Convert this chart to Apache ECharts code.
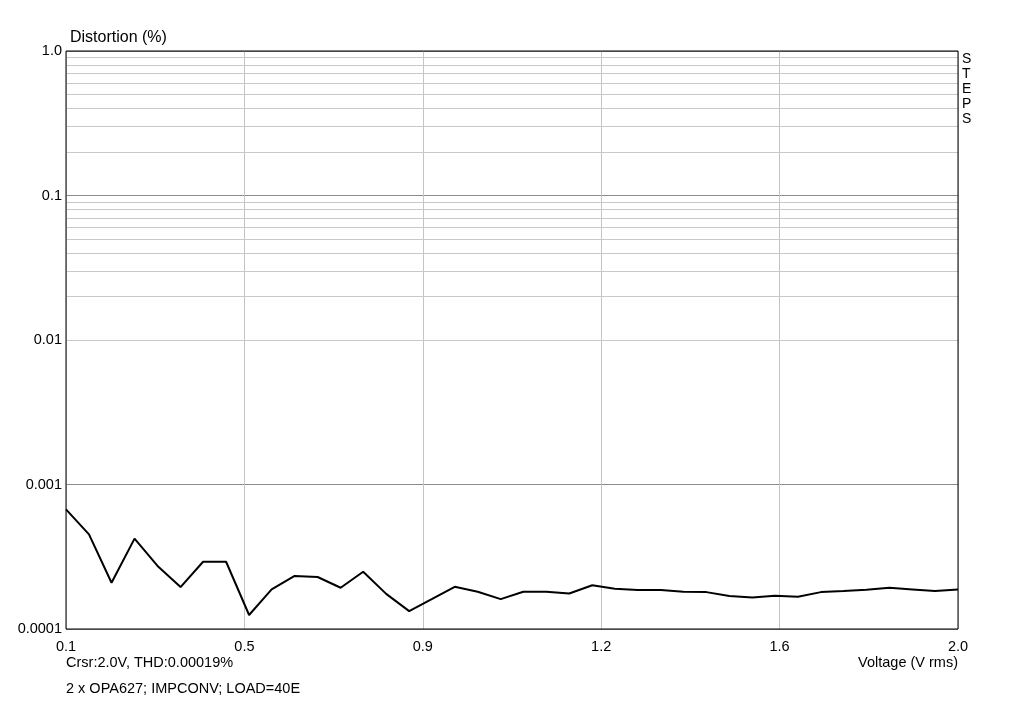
<!DOCTYPE html>
<html>
<head>
<meta charset="utf-8">
<script src="https://cdn.jsdelivr.net/npm/echarts@6/dist/echarts.min.js"></script>
<style>
html,body{margin:0;padding:0;background:#ffffff;}
#chart{width:1024px;height:701px;}
</style>
</head>
<body>
<div id="chart"></div>
<script>
// Sweep voltages (V rms)
var voltages = [0.100,0.149,0.197,0.246,0.295,0.344,0.392,0.441,0.490,0.538,
  0.587,0.636,0.685,0.733,0.782,0.831,0.879,0.928,0.977,1.026,
  1.074,1.123,1.172,1.221,1.269,1.318,1.367,1.415,1.464,1.513,
  1.562,1.610,1.659,1.708,1.756,1.805,1.854,1.903,1.951,2.000];
// Distortion (%)
var distortion = [0.000673,0.000452,0.000209,0.000422,0.000273,0.000195,0.000292,0.000292,0.000125,0.000188,
  0.000233,0.000229,0.000193,0.000249,0.000175,0.000133,0.000161,0.000196,0.000181,0.000161,
  0.000181,0.000181,0.000176,0.000201,0.000190,0.000186,0.000186,0.000181,0.000180,0.000169,
  0.000165,0.000170,0.000167,0.000180,0.000183,0.000187,0.000193,0.000188,0.000183,0.000188];
// X grid / tick positions and labels
var xTicks = [0.1,0.48,0.86,1.24,1.62,2.0];
var xTickLabels = ['0.1','0.5','0.9','1.2','1.6','2.0'];
// Y decades and labels
var yDecades = [0.0001,0.001,0.01,0.1,1];
var yDecadeLabels = ['0.0001','0.001','0.01','0.1','1.0'];
var minorMultipliers = [2,3,4,5,6,7,8,9];

var minorLines = [];
for (var d = 0; d < yDecades.length - 1; d++) {
  for (var m = 0; m < minorMultipliers.length; m++) {
    minorLines.push({yAxis: yDecades[d] * minorMultipliers[m]});
  }
}

var points = voltages.map(function (v, i) { return [v, distortion[i]]; });
var FONT = '"Liberation Sans", Arial, sans-serif';

var chart = echarts.init(document.getElementById('chart'), null, {renderer: 'canvas'});
chart.setOption({
  animation: false,
  backgroundColor: '#ffffff',
  grid: {left: 66, right: 66, top: 51, bottom: 72, show: true, borderColor: '#000000', borderWidth: 1, backgroundColor: 'transparent', z: 10},
  xAxis: {
    type: 'value', min: 0.1, max: 2.0,
    axisLine: {show: false},
    axisTick: {show: false, customValues: xTicks},
    axisLabel: {
      customValues: xTicks, margin: 10, color: '#000', fontFamily: FONT, fontSize: 14.5,
      formatter: function (v) { var i = xTicks.indexOf(v); return i >= 0 ? xTickLabels[i] : v.toFixed(1); }
    },
    splitLine: {show: true, lineStyle: {color: '#c4c4c4', width: 1}}
  },
  yAxis: {
    type: 'log', logBase: 10, min: 0.0001, max: 1,
    axisLine: {show: false},
    axisTick: {show: false},
    axisLabel: {
      margin: 4, color: '#000', fontFamily: FONT, fontSize: 14.5,
      formatter: function (v) {
        for (var i = 0; i < yDecades.length; i++) {
          if (Math.abs(Math.log10(v) - Math.log10(yDecades[i])) < 1e-6) return yDecadeLabels[i];
        }
        return '';
      }
    },
    splitLine: {show: true, lineStyle: {color: '#8c8c8c', width: 1}}
  },
  series: [
    {
      type: 'line', data: [], z: 1, silent: true,
      markLine: {
        silent: true, symbol: 'none', animation: false,
        label: {show: false},
        lineStyle: {color: '#c8c8c8', width: 1, type: 'solid'},
        data: minorLines
      }
    },
    {
      type: 'line', data: points, z: 5, showSymbol: false, symbol: 'none',
      lineStyle: {color: '#000000', width: 2},
      silent: true
    }
  ],
  graphic: [
    {type: 'text', left: 70, top: 30, style: {text: 'Distortion (%)', fill: '#000', font: '16px ' + FONT}},
    {type: 'text', left: 962, top: 52, style: {text: 'S\nT\nE\nP\nS', fill: '#000', font: '14px ' + FONT, lineHeight: 15}},
    {type: 'text', left: 66, top: 655, style: {text: 'Crsr:2.0V, THD:0.00019%', fill: '#000', font: '14.5px ' + FONT}},
    {type: 'text', left: 66, top: 681, style: {text: '2 x OPA627; IMPCONV; LOAD=40E', fill: '#000', font: '14.5px ' + FONT}},
    {type: 'text', right: 66, top: 655, style: {text: 'Voltage (V rms)', fill: '#000', font: '14.5px ' + FONT}}
  ]
});
</script>
</body>
</html>
